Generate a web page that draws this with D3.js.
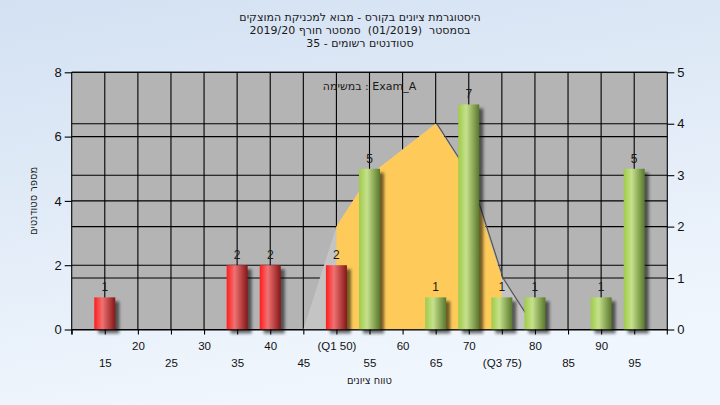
<!DOCTYPE html>
<html><head><meta charset="utf-8">
<script src="https://cdn.jsdelivr.net/npm/d3@7"></script>
<style>
html,body{margin:0;padding:0;}
svg{display:block;font-family:"Liberation Sans","DejaVu Sans",Arial,sans-serif;}
</style></head>
<body>
<script>
// ---- data ----
const categories = [15,20,25,30,35,40,45,50,55,60,65,70,75,80,85,90,95];
const counts     = [1,0,0,0,2,2,0,2,5,0,1,7,1,1,0,1,5];
const tickLabels = ["15","20","25","30","35","40","45","(Q1 50)","55","60","65","70","(Q3 75)","80","85","90","95"];
const curveX = [45,50,55,60,65,70,75,80];
const curveY = [0,2,3,3.5,4,3,1,0];
const q1 = 50, q3 = 75, passGrade = 55;
const leftTicks = [0,2,4,6,8];
const rightTicks = [0,1,2,3,4,5];
const titleLines = ["היסטוגרמת ציונים בקורס - מבוא למכניקת המוצקים","בסמסטר  (01/2019)  סמסטר חורף 2019/20","סטודנטים רשומים - 35"];
const taskLabel = "במשימה : Exam_A";
const yTitle = "מספר סטודנטים";
const xTitle = "טווח ציונים";

const W = 720, H = 405;
const L = 71.7, R = 667.3, T = 72.3, B = 329.5;

const svg = d3.select("body").append("svg").attr("width", W).attr("height", H);
const defs = svg.append("defs");

const bg = defs.append("linearGradient").attr("id","bg").attr("x1",0).attr("y1",0).attr("x2",0.3).attr("y2",1);
bg.append("stop").attr("offset","0%").attr("stop-color","#d3e1f2");
bg.append("stop").attr("offset","100%").attr("stop-color","#f0f6fd");

function barGrad(id, c0, c1, c2){
  const g = defs.append("linearGradient").attr("id",id).attr("x1",0).attr("y1",0).attr("x2",1).attr("y2",0);
  g.append("stop").attr("offset","0%").attr("stop-color",c0);
  g.append("stop").attr("offset","38%").attr("stop-color",c1);
  g.append("stop").attr("offset","100%").attr("stop-color",c2);
}
barGrad("gRed","#ff1c1c","#f07272","#861616");
barGrad("gGreen","#9fcb48","#c6e18c","#59782c");

const blur = defs.append("filter").attr("id","blur").attr("x","-50%").attr("y","-50%").attr("width","200%").attr("height","200%");
blur.append("feGaussianBlur").attr("stdDeviation",1.8);

defs.append("clipPath").attr("id","plotClip").append("rect").attr("x",L).attr("y",T).attr("width",R-L).attr("height",B-T);

svg.append("rect").attr("width",W).attr("height",H).attr("fill","url(#bg)");

const x = d3.scaleLinear().domain([10,100]).range([L,R]);
const yL = d3.scaleLinear().domain([0,8]).range([B,T]);
const yR = d3.scaleLinear().domain([0,5]).range([B,T]);

// plot background
svg.append("rect").attr("x",L).attr("y",T).attr("width",R-L).attr("height",B-T).attr("fill","#b4b4b4");

// gridlines
const grid = svg.append("g").attr("stroke","#000").attr("stroke-width",1.1);
grid.selectAll("line.v").data(categories).join("line")
  .attr("x1",d=>x(d)).attr("x2",d=>x(d)).attr("y1",T).attr("y2",B);
grid.selectAll("line.hl").data(leftTicks).join("line")
  .attr("x1",L).attr("x2",R).attr("y1",d=>yL(d)).attr("y2",d=>yL(d));
grid.selectAll("line.hr").data(rightTicks).join("line")
  .attr("x1",L).attr("x2",R).attr("y1",d=>yR(d)).attr("y2",d=>yR(d));

// area (distribution curve)
const pts = curveX.map((v,i)=>[v,curveY[i]]);
const area = d3.area().x(d=>x(d[0])).y0(yR(0)).y1(d=>yR(d[1]));
const line = d3.line().x(d=>x(d[0])).y(d=>yR(d[1]));
const ag = svg.append("g").attr("clip-path","url(#plotClip)");
ag.append("path").attr("d",line(pts)).attr("fill","none").attr("stroke","#555").attr("stroke-width",1.2)
  .attr("transform","translate(1.5,0.5)");
ag.append("path").attr("d",area(pts)).attr("fill","#c4c4c4");
defs.append("clipPath").attr("id","iqr").append("rect")
  .attr("x",x(q1)).attr("y",T).attr("width",x(q3)-x(q1)).attr("height",B-T);
ag.append("path").attr("d",area(pts)).attr("fill","#fecb5a").attr("clip-path","url(#iqr)");

// bars
const bw = 21;
const data = categories.map((c,i)=>({c, v:counts[i]})).filter(d=>d.v>0);
const bars = svg.append("g");
bars.selectAll("rect.sh").data(data).join("rect")
  .attr("x",d=>x(d.c)-bw/2+4).attr("y",d=>yL(d.v)+4)
  .attr("width",bw).attr("height",d=>B-yL(d.v))
  .attr("fill","#000").attr("opacity",0.55).attr("filter","url(#blur)");
bars.selectAll("rect.b").data(data).join("rect")
  .attr("x",d=>x(d.c)-bw/2).attr("y",d=>yL(d.v))
  .attr("width",bw).attr("height",d=>B-yL(d.v))
  .attr("fill",d=>d.c>=passGrade?"url(#gGreen)":"url(#gRed)");
bars.selectAll("text").data(data).join("text")
  .attr("x",d=>x(d.c)).attr("y",d=>yL(d.v)-6)
  .attr("text-anchor","middle").attr("font-size",12).attr("fill","#1a1a1a")
  .text(d=>d.v);

// task label
svg.append("text").attr("x",(L+R)/2).attr("y",90).attr("text-anchor","middle")
  .attr("font-size",11).attr("fill","#1a1a1a").attr("font-family","DejaVu Sans, sans-serif").text(taskLabel);

// axes
const axL = svg.append("g").attr("transform",`translate(${L},0)`)
  .call(d3.axisLeft(yL).tickValues(leftTicks).tickSize(7).tickSizeOuter(0).tickPadding(3).tickFormat(d3.format("d")));
const axR = svg.append("g").attr("transform",`translate(${R},0)`)
  .call(d3.axisRight(yR).tickValues(rightTicks).tickSize(7).tickSizeOuter(0).tickPadding(3).tickFormat(d3.format("d")));
[axL,axR].forEach(a=>{
  a.selectAll("text").attr("font-size",13).attr("fill","#111").attr("font-family","Liberation Sans, DejaVu Sans, sans-serif");
  a.selectAll("line").attr("stroke","#000").attr("stroke-width",1.1);
  a.select(".domain").attr("stroke","#000").attr("stroke-width",1.1).attr("d",`M0,${T}V${B+5}`);
});
const axB = svg.append("g").attr("transform",`translate(0,${B})`)
  .call(d3.axisBottom(x).tickValues([10].concat(categories)).tickSize(5).tickSizeOuter(0)
    .tickFormat(d=>{const i=categories.indexOf(d); return i<0?"":tickLabels[i];}));
axB.select(".domain").attr("stroke","#000").attr("stroke-width",1.1);
axB.selectAll("line").attr("stroke","#000").attr("stroke-width",1.1);
axB.selectAll("text").attr("font-size",11.5).attr("fill","#111").attr("font-family","Liberation Sans, DejaVu Sans, sans-serif")
  .attr("dy",null)
  .attr("y",d=>{const i=categories.indexOf(d); return i%2===0?37:20;});

// titles
const tg = svg.append("g").attr("font-size",11).attr("fill","#1a1a1a").attr("font-family","DejaVu Sans, sans-serif");
tg.selectAll("text").data(titleLines).join("text")
  .attr("x",360).attr("y",(d,i)=>21+i*13).attr("text-anchor","middle").attr("direction","rtl")
  .style("white-space","pre")
  .text(d=>d);

svg.append("text").attr("transform",`translate(37,${(T+B)/2}) rotate(-90)`)
  .attr("text-anchor","middle").attr("direction","rtl").attr("font-size",11)
  .attr("font-family","DejaVu Sans Condensed, DejaVu Sans, sans-serif").attr("fill","#1a1a1a").text(yTitle);
svg.append("text").attr("x",(L+R)/2).attr("y",384).attr("text-anchor","middle").attr("direction","rtl")
  .attr("font-size",11).attr("font-family","DejaVu Sans Condensed, DejaVu Sans, sans-serif").attr("fill","#1a1a1a").text(xTitle);
</script>
</body></html>
